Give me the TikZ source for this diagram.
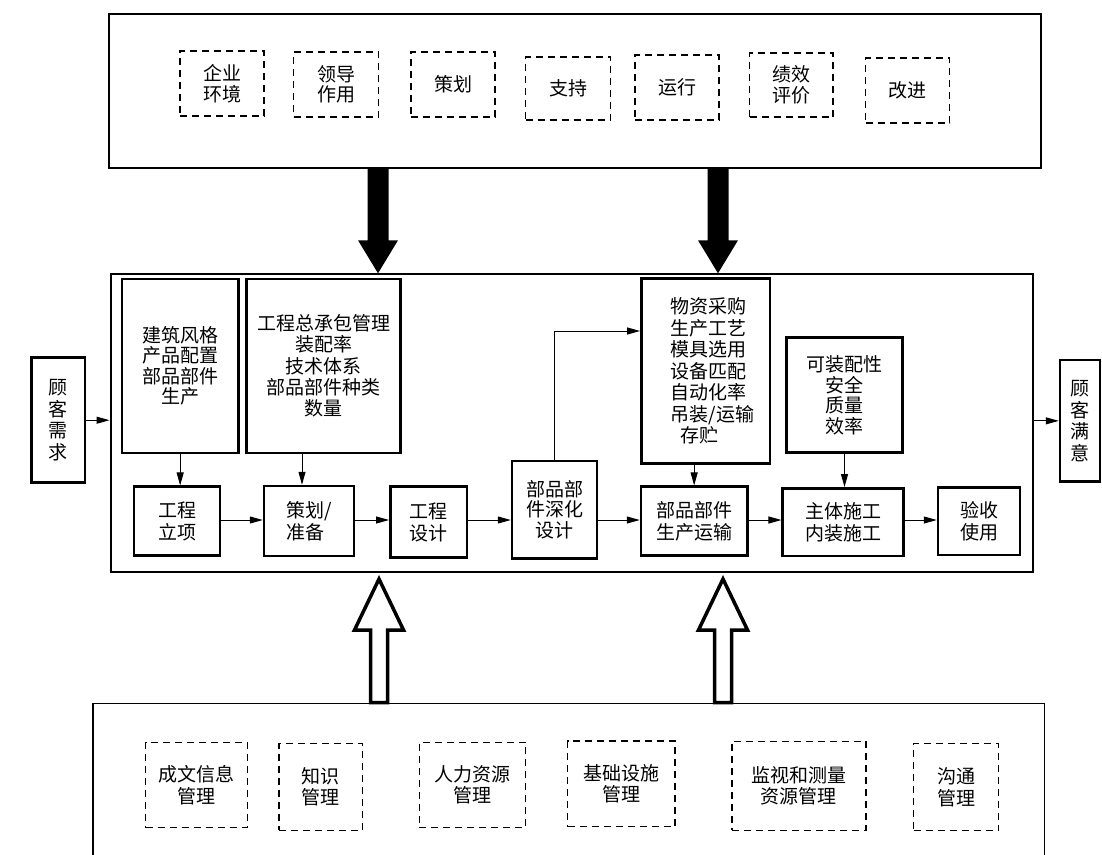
\documentclass[tikz,border=0pt]{standalone}
\usepackage{fontspec}
\setmainfont{Noto Sans CJK SC}
\usetikzlibrary{arrows.meta,calc}
\begin{document}
\begin{tikzpicture}[x=1pt,y=-1pt,
  every node/.style={font=\fontsize{19pt}{20.5pt}\selectfont, inner sep=0pt, align=center},
  sz/.style n args={2}{minimum width=#1pt, minimum height=#2pt},
  frame/.style={draw, line width=2pt},
  sbox/.style={draw, line width=2.5pt},
  dbox/.style={draw, line width=1.2pt, dash pattern=on 7pt off 5pt},
  two/.style={font=\fontsize{19pt}{22pt}\selectfont},
  wide/.style={font=\fontsize{19pt}{21.5pt}\selectfont},
  arr/.style={line width=1pt, -{Triangle[length=13pt,width=7pt]}},
  hol/.style={draw=black, fill=white, line width=3.5pt, line join=miter}]
\path[use as bounding box, clip] (0,0) rectangle (1102,854);
\fill[white] (0,0) rectangle (1102,854);

% top box
\node[frame, sz={932}{153.7}] (top) at (575,90.85) {};
\node[dbox, sz={84}{65}] (qy) at (222,83.5) {企业\\环境};
\node[dbox, sz={85}{65}] (ld) at (336.2,84.5) {领导\\作用};
\node[dbox, sz={84}{65}] (ch) at (453,84.5) {策划};
\node[dbox, sz={85}{63}] (zc) at (568,88.5) {支持};
\node[dbox, sz={84}{65}] (yx) at (677,87.5) {运行};
\node[dbox, sz={83.5}{64}] (jx) at (791.3,85) {绩效\\评价};
\node[dbox, sz={84}{65}] (gj) at (907.8,90.5) {改进};

% main box
\node[frame, sz={922.5}{297.7}] (main) at (571.75,423.15) {};
\node[sbox, sz={53.3}{125}, wide] (gx) at (58.35,420.2) {顾\\客\\需\\求};
\node[sbox, sz={116.3}{174}] (jz) at (180.15,366) {建筑风格\\产品配置\\部品部件\\生产};
\node[sbox, sz={153.6}{174}, font=\fontsize{19pt}{21.25pt}\selectfont] (zb) at (323.5,366) {工程总承包管理\\装配率\\技术体系\\部品部件种类\\数量};
\node[sbox, sz={86}{68.6}, two] (lx) at (177,521) {工程\\立项};
\node[sbox, sz={90}{70}, two, align=left] (cb) at (309,521) {策划/\\准备};
\node[sbox, sz={76.7}{70.6}, two] (gs) at (428.65,522) {工程\\设计};
\node[sbox, sz={85}{97.3}] (sh) at (554.5,509.65) {部品部\\件深化\\设计};
\node[sbox, sz={128.7}{185}, wide, align=left] (wz) at (705.65,370.8) {\hspace*{14pt}物资采购\\\hspace*{14pt}生产工艺\\\hspace*{14pt}模具选用\\\hspace*{14pt}设备匹配\\\hspace*{14pt}自动化率\\\hspace*{14pt}吊装/运输\\\hspace*{24pt}存贮};
\node[sbox, sz={106.3}{69}, two] (sc) at (694.15,521.2) {部品部件\\生产运输};
\node[sbox, sz={115.6}{115}] (kz) at (844.5,395.2) {可装配性\\安全\\质量\\效率};
\node[sbox, sz={120.6}{67.7}, two] (zt) at (843,522.15) {主体施工\\内装施工};
\node[sbox, sz={82}{67.7}, two] (ys) at (979,521.15) {验收\\使用};
\node[sbox, sz={40}{121.7}, wide] (my) at (1080,420.85) {顾\\客\\满\\意};

% bottom box
\node[draw, line width=1.8pt, sz={951.5}{200}] (bot) at (568.75,803.5) {};
\node[dbox, sz={101.5}{85.4}, wide] (cw) at (196.45,785) {成文信息\\管理};
\node[dbox, sz={83.5}{86.6}, wide] (zs) at (320.75,787) {知识\\管理};
\node[dbox, sz={106.5}{85.4}, wide] (rl) at (472.55,785) {人力资源\\管理};
\node[dbox, sz={107.2}{85.7}, wide] (jc) at (621.4,783.85) {基础设施\\管理};
\node[dbox, sz={134}{89}, wide] (js) at (798.95,785.75) {监视和测量\\资源管理};
\node[dbox, sz={85.3}{86.8}, wide] (gt) at (956.15,787.1) {沟通\\管理};

% connectors
\coordinate (row) at (0,520);
\coordinate (zbx) at (302,0);
\coordinate (elb) at (0,331);
\draw[arr] (gx.east) -- (gx.east -| main.west);
\draw[arr] (my.west -| main.east) -- (my.west);
\draw[arr] (jz.south) -- (jz.south |- lx.north);
\draw[arr] (zb.south -| zbx) -- (cb.north -| zbx);
\draw[arr] (lx.east |- row) -- (cb.west |- row);
\draw[arr] (cb.east |- row) -- (gs.west |- row);
\draw[arr] (gs.east |- row) -- (sh.west |- row);
\draw[arr] (sh.east |- row) -- (sc.west |- row);
\draw[arr] (sc.east |- row) -- (zt.west |- row);
\draw[arr] (zt.east |- row) -- (ys.west |- row);
\draw[arr] (sh.north) |- (wz.west |- elb);
\draw[arr] (wz.south -| sc.north) -- (sc.north);
\draw[arr] (kz.south) -- (kz.south |- zt.north);

% black block arrows
\coordinate (ba) at (378,0);
\coordinate (bb) at (718,0);
\foreach \c in {ba,bb}
  \fill ($(top.south -| \c)+(-10.5,-1)$) -- ($(main.north -| \c)+(-10.5,-33)$)
    -- ($(main.north -| \c)+(-20,-33)$) -- (main.north -| \c)
    -- ($(main.north -| \c)+(20,-33)$) -- ($(main.north -| \c)+(10.5,-33)$)
    -- ($(top.south -| \c)+(10.5,-1)$) -- cycle;

% hollow block arrows
\coordinate (ha) at (379,0);
\coordinate (hb) at (723,0);
\foreach \c in {ha,hb}
  \draw[hol] ($(bot.north -| \c)+(-8.5,0)$) -- ($(main.south -| \c)+(-8.5,57)$)
    -- ($(main.south -| \c)+(-24.5,57)$) -- ($(main.south -| \c)+(0,6)$)
    -- ($(main.south -| \c)+(24.5,57)$) -- ($(main.south -| \c)+(8.5,57)$)
    -- ($(bot.north -| \c)+(8.5,0)$) -- cycle;
\end{tikzpicture}
\end{document}
